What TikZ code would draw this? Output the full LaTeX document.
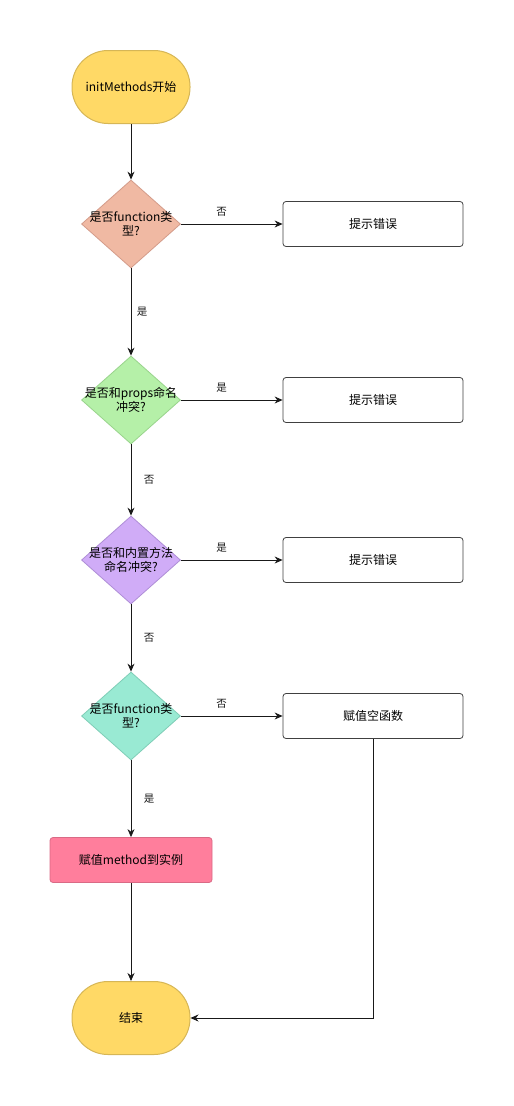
\documentclass[tikz,border=0pt]{standalone}
\usepackage{fontspec}
\setmainfont{Noto Sans CJK SC}
\usetikzlibrary{shapes.geometric,arrows.meta}
\definecolor{termfill}{HTML}{FFD966}
\definecolor{termline}{HTML}{D6B656}
\definecolor{dfa}{HTML}{F0B9A3}
\definecolor{dla}{HTML}{D39B89}
\definecolor{dfb}{HTML}{B5F0A8}
\definecolor{dlb}{HTML}{98D38B}
\definecolor{dfc}{HTML}{D0ACF7}
\definecolor{dlc}{HTML}{AE8DD6}
\definecolor{dfd}{HTML}{99EAD3}
\definecolor{dld}{HTML}{7ECDB6}
\definecolor{pinkfill}{HTML}{FF7E9C}
\definecolor{pinkline}{HTML}{D96A85}
\begin{document}
\begin{tikzpicture}[x=1pt,y=-1pt,font=\fontsize{12}{14}\selectfont,
  term/.style={draw=termline,fill=termfill,line width=1pt,rounded corners=36pt,
    minimum width=118pt,minimum height=73pt},
  dec/.style={diamond,line width=.8pt,minimum width=99pt,minimum height=88pt,inner sep=0pt},
  box/.style={draw=black!75,fill=white,line width=.8pt,rounded corners=3pt,
    minimum width=180pt,minimum height=45pt},
  arr/.style={-{Stealth[length=8pt,width=7pt]},line width=.8pt,black!90},
  lbl/.style={font=\fontsize{10.5}{12}\selectfont,inner sep=1pt}]
\useasboundingbox (0,0) rectangle (514,1106);
% nodes
\node[term] (start) at (131,87) {initMethods开始};
\node[dec,fill=dfa,draw=dla,label={[align=center]center:是否function类\\型?}] (isfn) at (131,224) {};
\node[box] (err1) at (373,224) {提示错误};
\node[dec,fill=dfb,draw=dlb,label={[align=center]center:是否和props命名\\冲突?}] (props) at (131,400) {};
\node[box] (err2) at (373,400) {提示错误};
\node[dec,fill=dfc,draw=dlc,label={[align=center]center:是否和内置方法\\命名冲突?}] (builtin) at (131,560) {};
\node[box] (err3) at (373,560) {提示错误};
\node[dec,fill=dfd,draw=dld,label={[align=center]center:是否function类\\型?}] (isfn2) at (131,716) {};
\node[box] (empty) at (373,716) {赋值空函数};
\node[box,fill=pinkfill,draw=pinkline,minimum width=162pt] (assign) at (131,860) {赋值method到实例};
\node[term] (end) at (131,1018) {结束};
% connectors
\draw[arr] (start) -- (isfn);
\draw[arr] (isfn) -- node[lbl,above=6pt,pos=.4] {否} (err1);
\draw[arr] (isfn) -- node[lbl,right=4.5pt] {是} (props);
\draw[arr] (props) -- node[lbl,above=6pt,pos=.4] {是} (err2);
\draw[arr] (props) -- node[lbl,right=11.5pt] {否} (builtin);
\draw[arr] (builtin) -- node[lbl,above=6pt,pos=.4] {是} (err3);
\draw[arr] (builtin) -- node[lbl,right=11.5pt] {否} (isfn2);
\draw[arr] (isfn2) -- node[lbl,above=6pt,pos=.4] {否} (empty);
\draw[arr] (isfn2) -- node[lbl,right=11.5pt] {是} (assign);
\draw[arr] (assign) -- (end);
\draw[arr] (empty) |- (end);
\end{tikzpicture}
\end{document}
